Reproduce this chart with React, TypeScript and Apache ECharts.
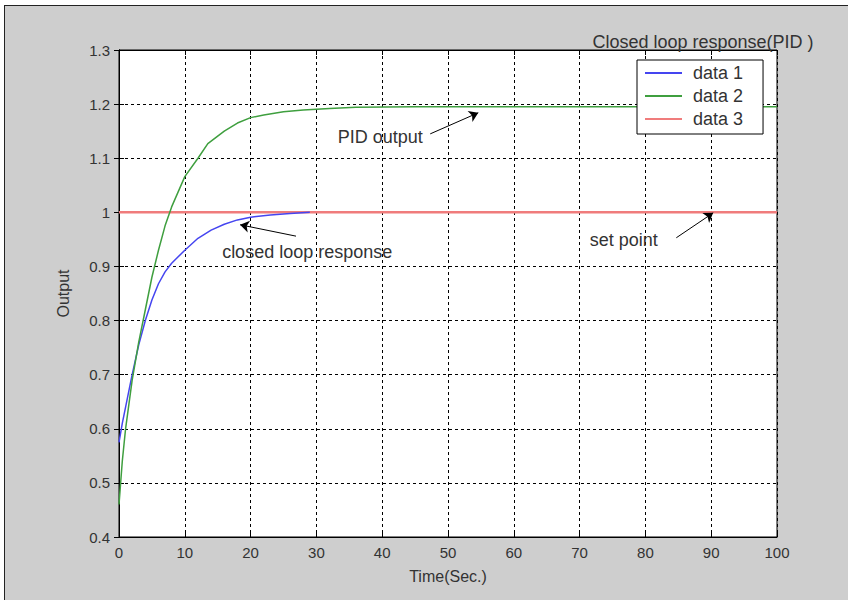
import React, { useEffect, useRef } from "react";
import * as echarts from "echarts";

// ---- data ----
const xTicks = [0, 10, 20, 30, 40, 50, 60, 70, 80, 90, 100];
const yTicks = [0.4, 0.5, 0.6, 0.7, 0.8, 0.9, 1.0, 1.1, 1.2, 1.3];

const data1: [number, number][] = [
  [0, 0.575], [0.5, 0.61], [1, 0.64], [2, 0.7], [3, 0.755], [4, 0.8],
  [5, 0.838], [6, 0.868], [7, 0.89], [8, 0.906], [10, 0.93], [12, 0.952],
  [14, 0.967], [16, 0.978], [18, 0.986], [20, 0.991], [23, 0.995],
  [26, 0.998], [29, 1.0],
];
const data2: [number, number][] = [
  [0, 0.46], [0.5, 0.54], [1, 0.6], [2, 0.69], [3, 0.76], [4, 0.82],
  [5, 0.88], [6, 0.93], [7, 0.975], [8, 1.01], [10, 1.066], [12, 1.1],
  [13.5, 1.127], [16, 1.15], [18, 1.165], [20, 1.175], [22, 1.18],
  [25, 1.186], [28, 1.189], [32, 1.192], [36, 1.194], [45, 1.195],
  [100, 1.195],
];
const data3: [number, number][] = [
  [0, 1.0], [100, 1.0],
];

const seriesNames = ["data 1", "data 2", "data 3"];
const seriesColors = ["#4545f0", "#3f9f3f", "#f07c7c"];

const annotationTexts = ["PID output", "closed loop response", "set point"];
const annotationAt: [number, number][] = [[39.7, 1.139], [28.6, 0.927], [76.7, 0.949]];
const arrowFrom: [number, number][] = [[47.3, 1.145], [26.9, 0.956], [84.7, 0.953]];
const arrowTo: [number, number][] = [[54.6, 1.184], [18.4, 0.977], [90.3, 0.999]];

const titleText = "Closed loop response(PID )";
const xName = "Time(Sec.)";
const yName = "Output";

const FONT = "'Liberation Sans', Arial, Helvetica, sans-serif";
const TXT = "#333333";

export default function App() {
  const ref = useRef<HTMLDivElement>(null);

  useEffect(() => {
    if (!ref.current) return;
    const chart = echarts.init(ref.current, undefined, { renderer: "svg" });
    const fmt = (v: number) => String(Math.round(v * 10) / 10);
    const baseX = {
      type: "value" as const,
      min: xTicks[0],
      max: xTicks[xTicks.length - 1],
      interval: 10,
      axisLine: { show: true, lineStyle: { color: "#000", width: 1 } },
      axisTick: { show: true, inside: true, length: 5, lineStyle: { color: "#000" } },
    };
    const baseY = {
      type: "value" as const,
      min: yTicks[0],
      max: yTicks[yTicks.length - 1],
      interval: 0.1,
      axisLine: { show: true, lineStyle: { color: "#000", width: 1 } },
      axisTick: { show: true, inside: true, length: 5, lineStyle: { color: "#000" } },
    };
    chart.setOption({
      animation: false,
      textStyle: { fontFamily: FONT },
      title: {
        text: titleText,
        left: 698,
        top: 28,
        textAlign: "center",
        textStyle: { fontSize: 18, fontWeight: "normal", color: TXT, fontFamily: FONT },
      },
      grid: {
        left: 119,
        right: 71,
        top: 50,
        bottom: 63,
        show: true,
        backgroundColor: "#ffffff",
        borderColor: "#000",
        borderWidth: 1,
      },
      legend: {
        orient: "vertical",
        left: 637,
        top: 60,
        data: seriesNames,
        icon: "rect",
        itemWidth: 37,
        itemHeight: 2,
        itemGap: 5,
        padding: [4, 20, 6, 8],
        backgroundColor: "#ffffff",
        borderColor: "#000",
        borderWidth: 1,
        textStyle: { fontSize: 18, color: TXT, fontFamily: FONT, padding: [0, 0, 0, 6], lineHeight: 18 },
      },
      xAxis: [
        {
          ...baseX,
          position: "bottom",
          name: xName,
          nameLocation: "middle",
          nameGap: 31,
          nameTextStyle: { fontSize: 16, color: TXT, fontFamily: FONT },
          axisLabel: { margin: 8, fontSize: 15, color: TXT, fontFamily: FONT },
          splitLine: { show: true, lineStyle: { color: "#000", type: [3, 3], width: 1 } },
        },
        {
          ...baseX,
          position: "top",
          axisLabel: { show: false },
          splitLine: { show: false },
        },
      ],
      yAxis: [
        {
          ...baseY,
          position: "left",
          name: yName,
          nameLocation: "middle",
          nameRotate: 90,
          nameGap: 48,
          nameTextStyle: { fontSize: 16, color: TXT, fontFamily: FONT },
          axisLabel: { margin: 9, fontSize: 15, color: TXT, fontFamily: FONT, formatter: fmt },
          splitLine: { show: true, lineStyle: { color: "#000", type: [3, 3], width: 1 } },
        },
        {
          ...baseY,
          position: "right",
          axisLabel: { show: false },
          splitLine: { show: false },
        },
      ],
      series: [
        {
          name: seriesNames[0],
          type: "line",
          data: data1,
          showSymbol: false,
          symbol: "none",
          lineStyle: { color: seriesColors[0], width: 1.5 },
          itemStyle: { color: seriesColors[0] },
          z: 3,
        },
        {
          name: seriesNames[1],
          type: "line",
          data: data2,
          showSymbol: false,
          symbol: "none",
          lineStyle: { color: seriesColors[1], width: 1.5 },
          itemStyle: { color: seriesColors[1] },
          z: 3,
        },
        {
          name: seriesNames[2],
          type: "line",
          data: data3,
          showSymbol: false,
          symbol: "none",
          lineStyle: { color: seriesColors[2], width: 2.5 },
          itemStyle: { color: seriesColors[2] },
          z: 2,
          markLine: {
            silent: true,
            symbol: ["none", "arrow"],
            symbolSize: 9,
            label: { show: false },
            lineStyle: { color: "#000", type: "solid", width: 1 },
            data: arrowFrom.map((f, i) => [{ coord: f }, { coord: arrowTo[i] }]),
          },
          markPoint: {
            silent: true,
            symbol: "rect",
            symbolSize: [1, 1],
            itemStyle: { color: "rgba(0,0,0,0)" },
            label: {
              show: true,
              position: "inside",
              formatter: "{b}",
              fontSize: 18,
              color: TXT,
              fontFamily: FONT,
            },
            data: annotationTexts.map((t, i) => ({ name: t, coord: annotationAt[i] })),
          },
        },
      ],
    });
    return () => chart.dispose();
  }, []);

  return (
    <div
      style={{
        position: "fixed",
        left: 0,
        top: 0,
        width: 848,
        height: 600,
        background: "#ffffff",
        overflow: "hidden",
      }}
    >
      <div
        style={{
          position: "absolute",
          left: 4,
          top: 5,
          width: 844,
          height: 595,
          background: "#cecece",
          borderLeft: "1.5px solid #222",
          borderTop: "1.5px solid #222",
          boxSizing: "border-box",
        }}
      />
      <div ref={ref} style={{ position: "absolute", left: 0, top: 0, width: 848, height: 600 }} />
    </div>
  );
}
